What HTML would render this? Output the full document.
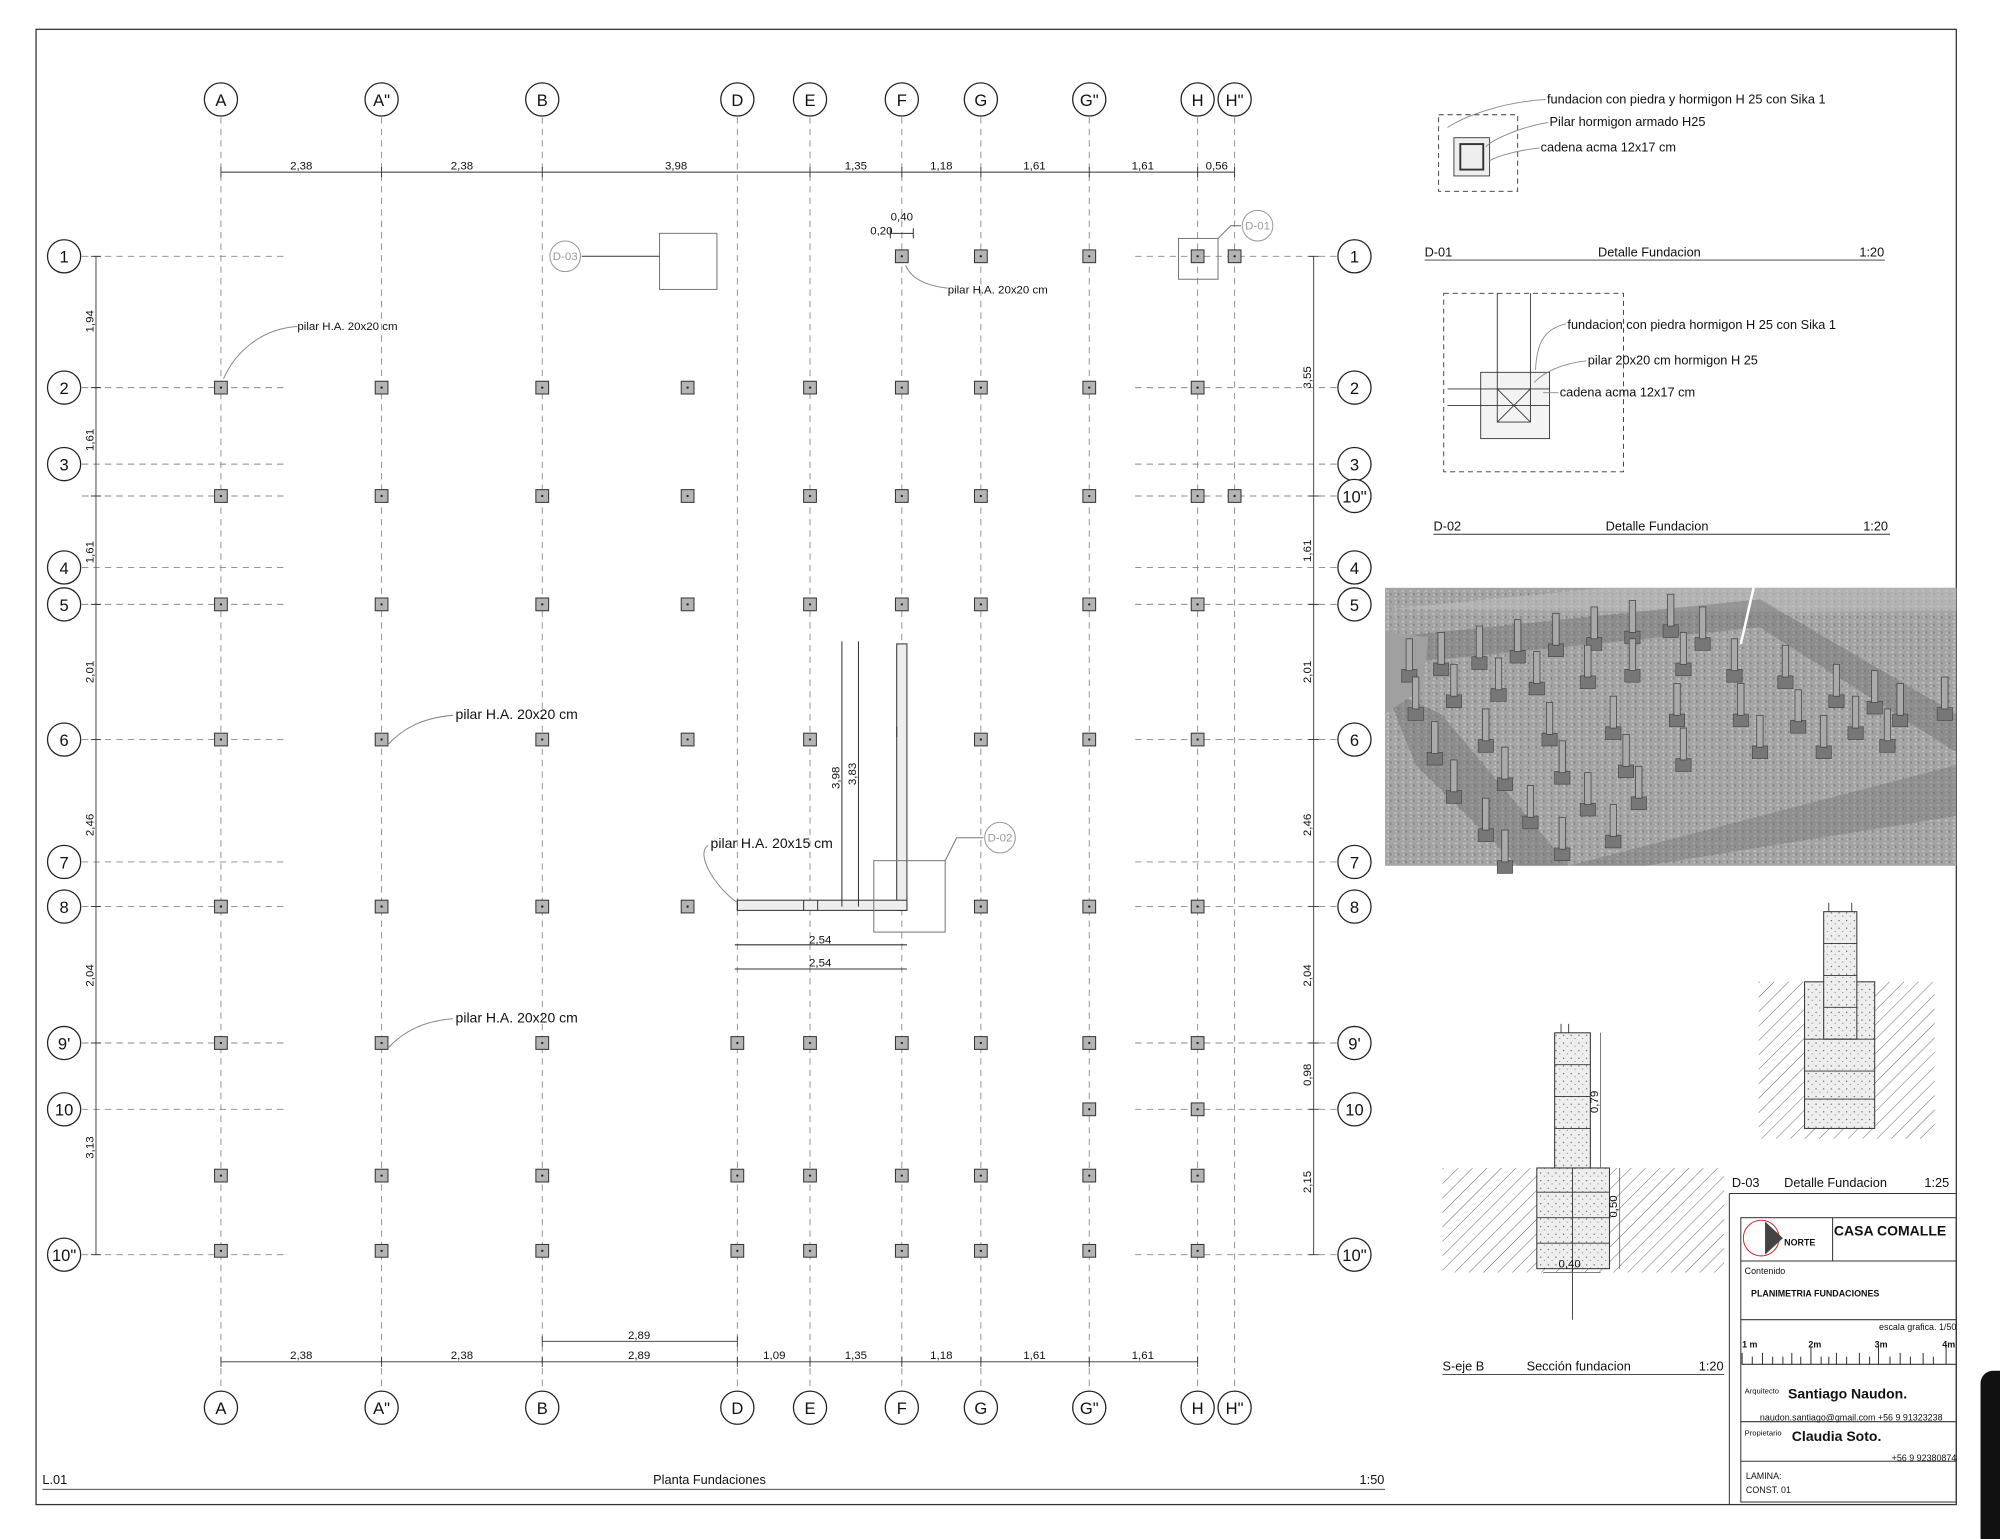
<!DOCTYPE html>
<html><head><meta charset="utf-8"><style>html,body{margin:0;padding:0;background:#fff}svg{display:block}text{font-family:"Liberation Sans",sans-serif;fill:#111}</style></head><body>
<svg width="2000" height="1539" viewBox="0 0 1568 1207" xmlns="http://www.w3.org/2000/svg">
<defs>
<symbol id="p" overflow="visible"><rect x="-5" y="-5" width="10" height="10" fill="#b4b4b4" stroke="#333" stroke-width="0.8"/><circle r="0.9" fill="#222"/></symbol>
<symbol id="pp" overflow="visible"><rect x="-6" y="0" width="12" height="10" fill="#777" stroke="#444" stroke-width=".5"/><rect x="-2.5" y="-24" width="5" height="25" fill="#aaa" stroke="#444" stroke-width=".6"/></symbol>
<pattern id="hatch" width="8" height="8" patternUnits="userSpaceOnUse" patternTransform="rotate(45)"><line x1="0" y1="0" x2="0" y2="8" stroke="#555" stroke-width="0.7"/></pattern>
<pattern id="tex" width="6" height="6" patternUnits="userSpaceOnUse"><rect width="6" height="6" fill="#a4a4a4"/><rect x="1" y="1" width="2" height="1" fill="#c8c8c8"/><rect x="4" y="3" width="1" height="2" fill="#808080"/><rect x="2" y="4" width="1" height="1" fill="#d0d0d0"/></pattern>
<pattern id="dots" width="6" height="6" patternUnits="userSpaceOnUse"><rect width="6" height="6" fill="#eee"/><circle cx="2" cy="2" r=".5" fill="#555"/><circle cx="5" cy="4.5" r=".4" fill="#555"/></pattern>
</defs>
<rect x="28" y="23" width="1506" height="1157" fill="none" stroke="#333" stroke-width="1"/>
<g stroke="#888" stroke-width="0.7" stroke-dasharray="5,4" fill="none">
<line x1="173" y1="92" x2="173" y2="1090"/><line x1="299" y1="92" x2="299" y2="1090"/><line x1="425" y1="92" x2="425" y2="1090"/><line x1="578" y1="92" x2="578" y2="1090"/><line x1="635" y1="92" x2="635" y2="1090"/><line x1="707" y1="92" x2="707" y2="1090"/><line x1="769" y1="92" x2="769" y2="1090"/><line x1="854" y1="92" x2="854" y2="1090"/><line x1="939" y1="92" x2="939" y2="1090"/><line x1="968" y1="92" x2="968" y2="1090"/>
<path d="M64 201H222M64 304H222M64 364H222M64 389H222M64 445H222M64 474H222M64 580H222M64 676H222M64 711H222M64 818H222M64 870H222M64 984H222"/>
<path d="M890 201H1048M890 304H1048M890 364H1048M890 389H1048M890 445H1048M890 474H1048M890 580H1048M890 676H1048M890 711H1048M890 818H1048M890 870H1048M890 984H1048"/>
</g>
<g fill="#fff" stroke="#222" stroke-width="1">
<circle cx="173" cy="78" r="13"/><circle cx="299" cy="78" r="13"/><circle cx="425" cy="78" r="13"/><circle cx="578" cy="78" r="13"/><circle cx="635" cy="78" r="13"/><circle cx="707" cy="78" r="13"/><circle cx="769" cy="78" r="13"/><circle cx="854" cy="78" r="13"/><circle cx="939" cy="78" r="13"/><circle cx="968" cy="78" r="13"/>
<circle cx="173" cy="1104" r="13"/><circle cx="299" cy="1104" r="13"/><circle cx="425" cy="1104" r="13"/><circle cx="578" cy="1104" r="13"/><circle cx="635" cy="1104" r="13"/><circle cx="707" cy="1104" r="13"/><circle cx="769" cy="1104" r="13"/><circle cx="854" cy="1104" r="13"/><circle cx="939" cy="1104" r="13"/><circle cx="968" cy="1104" r="13"/>
<circle cx="50" cy="201" r="13"/><circle cx="50" cy="304" r="13"/><circle cx="50" cy="364" r="13"/><circle cx="50" cy="445" r="13"/><circle cx="50" cy="474" r="13"/><circle cx="50" cy="580" r="13"/><circle cx="50" cy="676" r="13"/><circle cx="50" cy="711" r="13"/><circle cx="50" cy="818" r="13"/><circle cx="50" cy="870" r="13"/><circle cx="50" cy="984" r="13"/>
<circle cx="1062" cy="201" r="13"/><circle cx="1062" cy="304" r="13"/><circle cx="1062" cy="364" r="13"/><circle cx="1062" cy="389" r="13"/><circle cx="1062" cy="445" r="13"/><circle cx="1062" cy="474" r="13"/><circle cx="1062" cy="580" r="13"/><circle cx="1062" cy="676" r="13"/><circle cx="1062" cy="711" r="13"/><circle cx="1062" cy="818" r="13"/><circle cx="1062" cy="870" r="13"/><circle cx="1062" cy="984" r="13"/>
</g>
<g font-size="13" text-anchor="middle">
<text x="173" y="83">A</text><text x="299" y="83">A"</text><text x="425" y="83">B</text><text x="578" y="83">D</text><text x="635" y="83">E</text><text x="707" y="83">F</text><text x="769" y="83">G</text><text x="854" y="83">G"</text><text x="939" y="83">H</text><text x="968" y="83">H"</text>
<text x="173" y="1109">A</text><text x="299" y="1109">A"</text><text x="425" y="1109">B</text><text x="578" y="1109">D</text><text x="635" y="1109">E</text><text x="707" y="1109">F</text><text x="769" y="1109">G</text><text x="854" y="1109">G"</text><text x="939" y="1109">H</text><text x="968" y="1109">H"</text>
<text x="50" y="206">1</text><text x="50" y="309">2</text><text x="50" y="369">3</text><text x="50" y="450">4</text><text x="50" y="479">5</text><text x="50" y="585">6</text><text x="50" y="681">7</text><text x="50" y="716">8</text><text x="50" y="823">9'</text><text x="50" y="875">10</text><text x="50" y="989">10"</text>
<text x="1062" y="206">1</text><text x="1062" y="309">2</text><text x="1062" y="369">3</text><text x="1062" y="394">10"</text><text x="1062" y="450">4</text><text x="1062" y="479">5</text><text x="1062" y="585">6</text><text x="1062" y="681">7</text><text x="1062" y="716">8</text><text x="1062" y="823">9'</text><text x="1062" y="875">10</text><text x="1062" y="989">10"</text>
</g>
<g stroke="#333" stroke-width="0.7" fill="none">
<line x1="173" y1="135" x2="968" y2="135"/><line x1="173" y1="1068" x2="939" y2="1068"/><line x1="425" y1="1052" x2="578" y2="1052"/>
<line x1="75" y1="201" x2="75" y2="984"/><line x1="1030" y1="201" x2="1030" y2="984"/>
<path d="M173 131v8M299 131v8M425 131v8M635 131v8M707 131v8M769 131v8M854 131v8M939 131v8M968 131v8"/>
<path d="M173 1064v8M299 1064v8M425 1064v8M578 1064v8M635 1064v8M707 1064v8M769 1064v8M854 1064v8M939 1064v8M425 1048v8M578 1048v8"/>
<path d="M71 201h8M71 304h8M71 389h8M71 474h8M71 580h8M71 711h8M71 818h8M71 984h8"/>
<path d="M1026 201h8M1026 389h8M1026 474h8M1026 580h8M1026 711h8M1026 818h8M1026 870h8M1026 984h8"/>
<line x1="33" y1="1168" x2="1086" y2="1168"/>
</g>
<g font-size="9" text-anchor="middle">
<text x="236" y="133">2,38</text><text x="362" y="133">2,38</text><text x="530" y="133">3,98</text><text x="671" y="133">1,35</text><text x="738" y="133">1,18</text><text x="811" y="133">1,61</text><text x="896" y="133">1,61</text><text x="954" y="133">0,56</text>
<text x="236" y="1066">2,38</text><text x="362" y="1066">2,38</text><text x="501" y="1066">2,89</text><text x="607" y="1066">1,09</text><text x="671" y="1066">1,35</text><text x="738" y="1066">1,18</text><text x="811" y="1066">1,61</text><text x="896" y="1066">1,61</text><text x="501" y="1050">2,89</text>
<text transform="translate(73 252) rotate(-90)">1,94</text><text transform="translate(73 345) rotate(-90)">1,61</text><text transform="translate(73 433) rotate(-90)">1,61</text><text transform="translate(73 527) rotate(-90)">2,01</text><text transform="translate(73 647) rotate(-90)">2,46</text><text transform="translate(73 765) rotate(-90)">2,04</text><text transform="translate(73 900) rotate(-90)">3,13</text>
<text transform="translate(1028 296) rotate(-90)">3,55</text><text transform="translate(1028 432) rotate(-90)">1,61</text><text transform="translate(1028 527) rotate(-90)">2,01</text><text transform="translate(1028 647) rotate(-90)">2,46</text><text transform="translate(1028 765) rotate(-90)">2,04</text><text transform="translate(1028 843) rotate(-90)">0,98</text><text transform="translate(1028 927) rotate(-90)">2,15</text>
<text x="707" y="173">0,40</text><text x="691" y="184">0,20</text>
</g>
<g>
<use href="#p" x="707" y="201"/><use href="#p" x="769" y="201"/><use href="#p" x="854" y="201"/><use href="#p" x="939" y="201"/><use href="#p" x="968" y="201"/>
<use href="#p" x="173" y="304"/><use href="#p" x="299" y="304"/><use href="#p" x="425" y="304"/><use href="#p" x="539" y="304"/><use href="#p" x="635" y="304"/><use href="#p" x="707" y="304"/><use href="#p" x="769" y="304"/><use href="#p" x="854" y="304"/><use href="#p" x="939" y="304"/>
<use href="#p" x="173" y="389"/><use href="#p" x="299" y="389"/><use href="#p" x="425" y="389"/><use href="#p" x="539" y="389"/><use href="#p" x="635" y="389"/><use href="#p" x="707" y="389"/><use href="#p" x="769" y="389"/><use href="#p" x="854" y="389"/><use href="#p" x="939" y="389"/><use href="#p" x="968" y="389"/>
<use href="#p" x="173" y="474"/><use href="#p" x="299" y="474"/><use href="#p" x="425" y="474"/><use href="#p" x="539" y="474"/><use href="#p" x="635" y="474"/><use href="#p" x="707" y="474"/><use href="#p" x="769" y="474"/><use href="#p" x="854" y="474"/><use href="#p" x="939" y="474"/>
<use href="#p" x="173" y="580"/><use href="#p" x="299" y="580"/><use href="#p" x="425" y="580"/><use href="#p" x="539" y="580"/><use href="#p" x="635" y="580"/><use href="#p" x="769" y="580"/><use href="#p" x="854" y="580"/><use href="#p" x="939" y="580"/>
<use href="#p" x="173" y="711"/><use href="#p" x="299" y="711"/><use href="#p" x="425" y="711"/><use href="#p" x="539" y="711"/><use href="#p" x="769" y="711"/><use href="#p" x="854" y="711"/><use href="#p" x="939" y="711"/>
<use href="#p" x="173" y="818"/><use href="#p" x="299" y="818"/><use href="#p" x="425" y="818"/><use href="#p" x="578" y="818"/><use href="#p" x="635" y="818"/><use href="#p" x="707" y="818"/><use href="#p" x="769" y="818"/><use href="#p" x="854" y="818"/><use href="#p" x="939" y="818"/>
<use href="#p" x="854" y="870"/><use href="#p" x="939" y="870"/>
<use href="#p" x="173" y="922"/><use href="#p" x="299" y="922"/><use href="#p" x="425" y="922"/><use href="#p" x="578" y="922"/><use href="#p" x="635" y="922"/><use href="#p" x="707" y="922"/><use href="#p" x="769" y="922"/><use href="#p" x="854" y="922"/><use href="#p" x="939" y="922"/>
<use href="#p" x="173" y="981"/><use href="#p" x="299" y="981"/><use href="#p" x="425" y="981"/><use href="#p" x="578" y="981"/><use href="#p" x="635" y="981"/><use href="#p" x="707" y="981"/><use href="#p" x="769" y="981"/><use href="#p" x="854" y="981"/><use href="#p" x="939" y="981"/>
</g>
<g stroke="#333" stroke-width="0.8" fill="none">
<rect x="703" y="505" width="8" height="209" fill="#eee"/><rect x="578" y="706" width="133" height="8" fill="#eee"/>
<path d="M578 706v8M630 706v8M641 706v8M703 570v8"/>
<line x1="660" y1="503" x2="660" y2="711"/><line x1="673" y1="503" x2="673" y2="711"/>
<line x1="576" y1="741" x2="711" y2="741"/><line x1="576" y1="760" x2="711" y2="760"/>
<rect x="685" y="675" width="56" height="56" stroke="#777"/><path d="M741 675L750 657H771" stroke="#777"/><circle cx="784" cy="657" r="12" stroke="#999" fill="#fff"/>
<rect x="517" y="183" width="45" height="44" stroke="#777"/><line x1="456" y1="201" x2="517" y2="201"/><circle cx="443" cy="201" r="12" stroke="#999" fill="#fff"/>
<rect x="924" y="187" width="31" height="32" stroke="#777"/><path d="M955 187L965 177H973" stroke="#777"/><circle cx="986" cy="177" r="12" stroke="#999" fill="#fff"/>
<path d="M698 187v-8M716 187v-8M698 183h18"/>
<path d="M233 256C205 258 185 275 175 297" stroke="#888"/><path d="M743 226C725 224 714 218 710 208" stroke="#888"/>
<path d="M355 561C330 563 315 572 304 584" stroke="#888"/><path d="M355 799C330 801 315 810 304 822" stroke="#888"/><path d="M555 663C545 670 560 695 578 708" stroke="#888"/>
</g>
<g font-size="9" text-anchor="middle" fill="#999"><text x="443" y="204" style="fill:#999">D-03</text><text x="784" y="660" style="fill:#999">D-02</text><text x="986" y="180" style="fill:#999">D-01</text>
<text transform="translate(658 610) rotate(-90)">3,98</text><text transform="translate(671 607) rotate(-90)">3,83</text><text x="643" y="740">2,54</text><text x="643" y="758">2,54</text></g>
<g font-size="9"><text x="233" y="259">pilar H.A. 20x20 cm</text><text x="743" y="230">pilar H.A. 20x20 cm</text></g>
<g font-size="11"><text x="357" y="564">pilar H.A. 20x20 cm</text><text x="357" y="802">pilar H.A. 20x20 cm</text><text x="557" y="665">pilar H.A. 20x15 cm</text></g>
<g font-size="10"><text x="33" y="1164">L.01</text><text x="512" y="1164">Planta Fundaciones</text><text x="1066" y="1164">1:50</text></g>
<g stroke="#333" stroke-width="0.7" fill="none">
<rect x="1128" y="90" width="62" height="60" stroke-dasharray="4,3"/><rect x="1140" y="108" width="28" height="30" fill="#eee"/><rect x="1145" y="113" width="18" height="20" stroke-width="1.5"/>
<path d="M1212 78C1180 80 1150 90 1135 100M1214 96C1190 100 1170 110 1165 115M1207 116C1190 118 1175 122 1168 126" stroke="#888"/>
<line x1="1117" y1="204" x2="1478" y2="204"/>
<rect x="1132" y="230" width="141" height="140" stroke-dasharray="4,3"/><rect x="1161" y="292" width="54" height="52" fill="#f3f3f3"/><path d="M1174 230V305M1200 230V305M1135 305H1215M1135 318H1215"/><rect x="1174" y="305" width="26" height="26"/><path d="M1174 305l26 26M1200 305l-26 26"/>
<path d="M1228 254C1210 258 1205 270 1204 290M1244 283C1225 285 1210 292 1203 300M1222 308H1210" stroke="#888"/>
<line x1="1124" y1="419" x2="1482" y2="419"/>
</g>
<g font-size="10"><text x="1213" y="81">fundacion con piedra y hormigon H 25 con Sika 1</text><text x="1215" y="99">Pilar hormigon armado H25</text><text x="1208" y="119">cadena acma 12x17 cm</text>
<text x="1117" y="201">D-01</text><text x="1253" y="201">Detalle Fundacion</text><text x="1458" y="201">1:20</text>
<text x="1229" y="258">fundacion con piedra hormigon H 25 con Sika 1</text><text x="1245" y="286">pilar 20x20 cm hormigon H 25</text><text x="1223" y="311">cadena acma 12x17 cm</text>
<text x="1124" y="416">D-02</text><text x="1259" y="416">Detalle Fundacion</text><text x="1461" y="416">1:20</text></g>
<rect x="1086" y="461" width="448" height="218" fill="url(#tex)"/>
<path d="M1086 478L1260 461H1534V479L1400 480Z" fill="#bdbdbd" opacity=".6"/>
<path d="M1086 540L1110 600L1190 679H1230L1130 560ZM1086 500L1380 470L1534 560V590L1380 492L1100 520Z" fill="#6a6a6a" opacity=".4"/>
<path d="M1230 679L1534 600V640L1290 679Z" fill="#6a6a6a" opacity=".35"/>
<path d="M1086 495L1120 500L1115 540L1086 560Z" fill="#a0a0a0"/>
<line x1="1375" y1="461" x2="1365" y2="505" stroke="#fff" stroke-width="2"/>
<g>
<use href="#pp" x="1105" y="525"/><use href="#pp" x="1130" y="520"/><use href="#pp" x="1160" y="515"/><use href="#pp" x="1190" y="510"/><use href="#pp" x="1220" y="505"/><use href="#pp" x="1250" y="500"/><use href="#pp" x="1280" y="495"/><use href="#pp" x="1310" y="490"/><use href="#pp" x="1335" y="500"/>
<use href="#pp" x="1110" y="555"/><use href="#pp" x="1140" y="545"/><use href="#pp" x="1175" y="540"/><use href="#pp" x="1205" y="535"/><use href="#pp" x="1245" y="530"/><use href="#pp" x="1280" y="525"/><use href="#pp" x="1320" y="520"/><use href="#pp" x="1360" y="525"/><use href="#pp" x="1400" y="530"/><use href="#pp" x="1440" y="545"/><use href="#pp" x="1470" y="550"/>
<use href="#pp" x="1125" y="590"/><use href="#pp" x="1165" y="580"/><use href="#pp" x="1215" y="575"/><use href="#pp" x="1265" y="570"/><use href="#pp" x="1315" y="560"/><use href="#pp" x="1365" y="560"/><use href="#pp" x="1410" y="565"/><use href="#pp" x="1455" y="570"/><use href="#pp" x="1490" y="560"/><use href="#pp" x="1525" y="555"/>
<use href="#pp" x="1140" y="620"/><use href="#pp" x="1180" y="610"/><use href="#pp" x="1225" y="605"/><use href="#pp" x="1275" y="600"/><use href="#pp" x="1320" y="595"/><use href="#pp" x="1380" y="585"/><use href="#pp" x="1430" y="585"/><use href="#pp" x="1480" y="580"/>
<use href="#pp" x="1165" y="650"/><use href="#pp" x="1200" y="640"/><use href="#pp" x="1245" y="630"/><use href="#pp" x="1285" y="625"/>
<use href="#pp" x="1180" y="675"/><use href="#pp" x="1225" y="665"/><use href="#pp" x="1265" y="655"/>
</g>
<rect x="1131" y="916" width="221" height="82" fill="url(#hatch)"/>
<rect x="1205" y="916" width="57" height="79" fill="url(#dots)" stroke="#333" stroke-width=".8"/>
<rect x="1219" y="810" width="28" height="106" fill="url(#dots)" stroke="#333" stroke-width=".8"/>
<path d="M1219 835h28M1219 860h28M1219 885h28M1205 935h57M1205 955h57M1205 975h57M1233 916v79M1224 803v7M1230 803v7M1233 995v40" stroke="#333" stroke-width=".7" fill="none"/>
<path d="M1255 810v106M1270 916v79M1210 998h45" stroke="#555" stroke-width=".6"/>
<g font-size="9"><text transform="translate(1253 873) rotate(-90)">0,79</text><text transform="translate(1268 955) rotate(-90)">0,50</text><text x="1222" y="994">0,40</text></g>
<line x1="1131" y1="1078" x2="1352" y2="1078" stroke="#333" stroke-width=".7"/>
<g font-size="10"><text x="1131" y="1075">S-eje B</text><text x="1197" y="1075">Sección fundacion</text><text x="1332" y="1075">1:20</text></g>
<rect x="1379" y="770" width="138" height="123" fill="url(#hatch)"/>
<rect x="1415" y="770" width="55" height="115" fill="url(#dots)" stroke="#333" stroke-width=".8"/>
<rect x="1430" y="715" width="26" height="100" fill="url(#dots)" stroke="#333" stroke-width=".8"/>
<path d="M1430 740h26M1430 765h26M1430 790h26M1415 815h55M1415 840h55M1415 862h55M1434 708v7M1452 708v7" stroke="#333" stroke-width=".7"/>
<g font-size="10"><text x="1358" y="931">D-03</text><text x="1399" y="931">Detalle Fundacion</text><text x="1509" y="931">1:25</text></g>
<g stroke="#333" stroke-width=".8" fill="none">
<line x1="1356" y1="936" x2="1534" y2="936"/><line x1="1356" y1="936" x2="1356" y2="1180"/>
<rect x="1365" y="955" width="169" height="223"/>
<line x1="1437" y1="955" x2="1437" y2="989"/><line x1="1365" y1="989" x2="1534" y2="989"/><line x1="1365" y1="1035" x2="1534" y2="1035"/><line x1="1365" y1="1115" x2="1534" y2="1115"/><line x1="1365" y1="1146" x2="1534" y2="1146"/>
<circle cx="1381" cy="971" r="14" stroke="#c33"/>
<path d="M1366 1061v9h168M1382 1061v9M1405 1061v9M1420 1056v14M1440 1061v9M1458 1061v9M1473 1056v14M1490 1061v9M1508 1061v9M1526 1056v14M1374 1064v6M1390 1064v6M1398 1064v6M1412 1064v6M1428 1064v6M1434 1064v6M1448 1064v6M1466 1064v6M1482 1064v6M1498 1064v6M1516 1064v6"/>
</g>
<path d="M1384 958L1398 971L1384 984Z" fill="#444"/>
<g><text x="1399" y="977" font-size="7" font-weight="bold">NORTE</text><text x="1438" y="969" font-size="11" font-weight="bold">CASA COMALLE</text>
<text x="1368" y="999" font-size="7">Contenido</text><text x="1373" y="1017" font-size="7" font-weight="bold">PLANIMETRIA FUNDACIONES</text>
<text x="1534" y="1043" font-size="7" text-anchor="end">escala grafica. 1/50</text>
<text x="1366" y="1057" font-size="7" font-weight="bold">1 m</text><text x="1418" y="1057" font-size="7" font-weight="bold">2m</text><text x="1470" y="1057" font-size="7" font-weight="bold">3m</text><text x="1523" y="1057" font-size="7" font-weight="bold">4m</text>
<text x="1368" y="1093" font-size="6">Arquitecto</text><text x="1402" y="1097" font-size="11" font-weight="bold">Santiago Naudon.</text>
<text x="1380" y="1114" font-size="7">naudon.santiago@gmail.com  +56 9 91323238</text>
<text x="1368" y="1126" font-size="6">Propietario</text><text x="1405" y="1130" font-size="11" font-weight="bold">Claudia Soto.</text>
<text x="1534" y="1146" font-size="7" text-anchor="end">+56 9 92380874</text>
<text x="1369" y="1160" font-size="7">LAMINA:</text><text x="1369" y="1171" font-size="7">CONST. 01</text></g>
<rect x="1553" y="1075" width="30" height="140" rx="10" fill="#111"/>
</svg>
</body></html>
